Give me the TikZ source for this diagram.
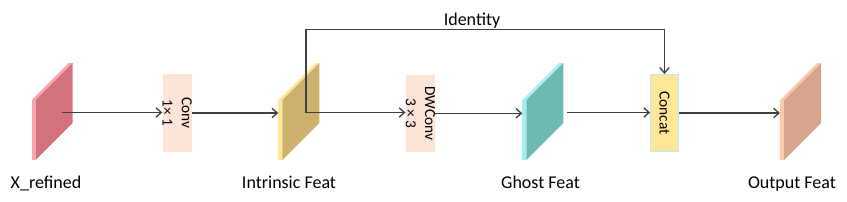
\documentclass[tikz,border=0pt]{standalone}
\usepackage{fontspec}
\setmainfont{Carlito}
\usetikzlibrary{arrows.meta}

\definecolor{linegray}{HTML}{404040}
\definecolor{convfill}{HTML}{FCE4D6}
\definecolor{catfill}{HTML}{FFE699}
\definecolor{catedge}{HTML}{B4EEF0}
\definecolor{xside}{HTML}{D4737C}
\definecolor{xstrip}{HTML}{F7A8AE}
\definecolor{inside}{HTML}{CCB06B}
\definecolor{instrip}{HTML}{FFE699}
\definecolor{gside}{HTML}{6CBAB2}
\definecolor{gstrip}{HTML}{A0F0F0}
\definecolor{oside}{HTML}{D4A58A}
\definecolor{ostrip}{HTML}{FBCBAA}

\tikzset{
  flow/.style={draw=linegray, line width=1pt, -{Straight Barb[length=4pt,width=7pt]}},
  opbox/.style={fill=convfill, rotate=-90, minimum width=58pt, minimum height=21pt,
    inner sep=0pt, align=center, font=\fontsize{11.5}{14.5}\selectfont},
  featlabel/.style={font=\fontsize{13.5}{16}\selectfont, anchor=base},
}

% feature slab: name, left x, side colour, strip colour
\newcommand{\featslab}[4]{%
  \fill[#4] (#2,100) -- (#2+4,100) -- (#2+41,63) -- (#2+37,63) -- cycle;
  \fill[#3] (#2+4,100) -- (#2+41,63) -- (#2+41,123) -- (#2+4,160) -- cycle;
  \fill[#4] (#2,100) rectangle (#2+4,160);
  \coordinate (#1l) at (#2,112.5);
  \coordinate (#1r) at (#2+44.5,112.5);
}

\begin{document}
\begin{tikzpicture}[x=0.75pt, y=-0.75pt]
\useasboundingbox (0,0) rectangle (847,201);

% slabs
\featslab{xr}{31.7}{xside}{xstrip}
\featslab{intr}{278.3}{inside}{instrip}
\featslab{ghost}{522.3}{gside}{gstrip}
\featslab{outp}{780}{oside}{ostrip}
\coordinate (xrc) at (61.7,112.5);
\coordinate (intrc) at (306,112.5);

% operations
\node[opbox] (conv) at (177.2,113) {Conv\\1× 1};
\node[opbox] (dwconv) at (420.5,113.3) {DWConv\\3 × 3};
\node[opbox, fill=catfill, draw=catedge, line width=0.6pt] (concat) at (664.5,113) {Concat};

% connections
\draw[flow] (xrc) -- (xrc -| conv.south);
\draw[flow] (conv.north) -- (conv.north -| intrl);
\draw[flow] (intrc) -- (intrc -| dwconv.south);
\draw[flow] (dwconv.north) -- (dwconv.north -| ghostl);
\draw[flow] (ghostr) -- (ghostr -| concat.south);
\draw[flow] (concat.north) -- (concat.north -| outpl);
\draw[flow] (intrc) -- ++(0,-83.2) -| (concat.west);

% labels
\node[featlabel] (idlab) at (472,25) {Identity};
\node[featlabel] (xlab) at (46,188.5) {X\_refined};
\node[featlabel] (intrlab) at (289,188.5) {Intrinsic Feat};
\node[featlabel] (ghostlab) at (540.5,188.5) {Ghost Feat};
\node[featlabel] (outplab) at (792,188.5) {Output Feat};
\end{tikzpicture}
\end{document}
